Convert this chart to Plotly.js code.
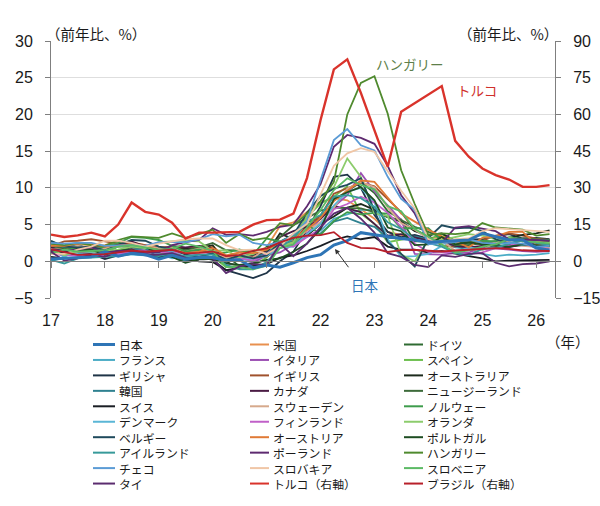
<!DOCTYPE html>
<html>
<head>
<meta charset="utf-8">
<script src="https://cdn.plot.ly/plotly-3.0.1.min.js"></script>
<style>html,body{margin:0;padding:0;background:#fff;}#chart{width:600px;height:506px;}</style>
</head>
<body>
<div id="chart"></div>
<script>
// ---- Data (quarterly, y/y %) ----
const periods = [
 '2017-01-01','2017-04-01','2017-07-01','2017-10-01',
 '2018-01-01','2018-04-01','2018-07-01','2018-10-01',
 '2019-01-01','2019-04-01','2019-07-01','2019-10-01',
 '2020-01-01','2020-04-01','2020-07-01','2020-10-01',
 '2021-01-01','2021-04-01','2021-07-01','2021-10-01',
 '2022-01-01','2022-04-01','2022-07-01','2022-10-01',
 '2023-01-01','2023-04-01','2023-07-01','2023-10-01',
 '2024-01-01','2024-04-01','2024-07-01','2024-10-01',
 '2025-01-01','2025-04-01','2025-07-01','2025-10-01',
 '2026-01-01','2026-04-01'];
const yearTickVals = ['2017-01-01','2018-01-01','2019-01-01','2020-01-01','2021-01-01','2022-01-01','2023-01-01','2024-01-01','2025-01-01','2026-01-01'];
const yearTickText = ['17','18','19','20','21','22','23','24','25','26'];

const japan       = [0.3,0.4,0.6,0.6, 1.3,0.7,1.1,0.9, 0.3,0.8,0.3,0.5, 0.5,0.1,0.2,-0.9, -0.5,-0.8,-0.2,0.5, 0.9,2.2,2.8,3.9, 3.6,3.3,3.1,2.9, 2.6,2.7,2.8,2.9, 3.8,3.4,2.9,2.9, 1.8,1.5];
const us          = [2.5,1.9,2.0,2.1, 2.2,2.7,2.6,2.2, 1.6,1.8,1.8,2.0, 2.1,0.4,1.2,1.2, 1.9,4.8,5.3,6.7, 8.0,8.6,8.3,7.1, 5.8,4.0,3.6,3.2, 3.2,3.2,2.6,2.7, 2.7,2.4,2.9,3.0, 2.7,2.6];
const germany     = [1.9,1.6,1.8,1.6, 1.3,2.0,2.1,2.1, 1.6,1.5,1.0,1.3, 1.6,0.8,-0.7,-0.6, 2.0,2.2,3.5,5.4, 5.8,8.3,9.6,10.8, 9.3,6.8,5.7,2.7, 2.7,2.6,2.1,2.6, 2.4,2.1,2.2,2.3, 2.1,2.0];
const france      = [1.4,0.9,1.0,1.2, 1.5,2.1,2.5,2.1, 1.5,1.3,1.2,1.3, 1.3,0.3,0.3,0.1, 0.8,1.8,2.5,3.3, 4.2,5.8,6.4,7.0, 7.0,6.1,5.4,4.2, 3.2,2.6,1.9,1.7, 1.0,0.7,0.9,0.8, 0.9,1.1];
const italy       = [1.3,1.6,1.3,1.1, 0.9,1.2,1.7,1.5, 1.1,0.9,0.4,0.3, 0.3,-0.3,-0.6,-0.2, 0.8,1.2,2.3,3.8, 5.8,7.4,9.0,12.0, 9.5,7.6,5.6,1.0, 1.0,0.9,1.1,1.2, 1.9,1.8,1.6,1.4, 1.3,1.4];
const spain       = [2.7,2.0,1.8,1.6, 1.1,2.1,2.3,1.7, 1.1,1.0,0.3,0.6, 0.6,-0.8,-0.6,-0.6, 0.5,2.5,3.4,6.0, 7.9,8.8,10.2,6.5, 5.1,2.6,2.9,3.3, 3.0,3.7,2.5,2.4, 2.5,2.2,2.8,3.0, 2.5,2.6];
const greece      = [1.4,1.1,0.8,1.0, 0.3,0.8,1.0,0.9, 0.8,0.6,0.1,0.6, 0.2,-1.2,-1.8,-2.3, -1.6,0.0,1.3,4.3, 7.5,11.5,11.8,10.0, 6.3,4.0,3.3,3.6, 3.1,2.6,2.9,2.9, 3.0,3.4,3.7,3.1, 3.2,3.0];
const uk          = [2.1,2.7,2.8,3.0, 2.7,2.4,2.5,2.2, 1.9,2.0,1.8,1.4, 1.7,0.6,0.6,0.5, 0.6,2.1,2.8,4.9, 6.2,9.2,10.0,10.7, 10.2,8.4,6.7,4.2, 3.5,2.1,2.0,2.5, 2.8,3.5,3.8,3.5, 3.1,2.9];
const australia   = [2.1,1.9,1.8,1.9, 1.9,2.1,1.9,1.8, 1.3,1.6,1.7,1.8, 2.2,-0.3,0.7,0.9, 1.1,3.8,3.0,3.5, 5.1,6.1,7.3,7.8, 7.0,6.0,5.4,4.1, 3.6,3.8,2.8,2.4, 2.4,2.1,3.2,3.6, 3.8,4.2];
const korea       = [2.1,1.9,2.3,1.5, 1.3,1.5,1.6,1.8, 0.5,0.7,0.0,0.3, 1.2,-0.1,0.6,0.5, 1.1,2.5,2.6,3.5, 3.8,5.4,5.9,5.2, 4.7,3.2,3.1,3.4, 3.0,2.7,2.1,1.6, 2.1,2.1,1.9,2.4, 2.1,2.0];
const canada      = [1.9,1.3,1.4,1.8, 2.1,2.3,2.7,2.0, 1.6,2.1,1.9,2.1, 1.8,0.0,0.3,0.8, 1.4,3.3,4.1,4.7, 5.8,7.5,7.2,6.7, 5.1,3.5,3.7,3.2, 2.8,2.8,2.1,1.9, 2.1,1.8,2.0,2.2, 2.4,2.3];
const newZealand  = [2.2,1.7,1.9,1.6, 1.1,1.5,1.9,1.9, 1.5,1.7,1.5,1.9, 2.5,1.5,1.4,1.4, 1.5,3.3,4.9,5.9, 6.9,7.3,7.2,7.2, 6.7,6.0,5.6,4.7, 4.0,3.3,2.2,2.2, 2.5,2.7,3.0,3.1, 2.9,2.8];
const switzerland = [0.6,0.4,0.5,0.8, 0.7,1.0,1.1,0.9, 0.6,0.6,0.3,0.0, -0.1,-1.2,-0.9,-0.7, -0.4,0.5,0.8,1.4, 2.1,2.9,3.4,3.0, 3.3,2.0,1.6,1.6, 1.2,1.4,1.0,0.7, 0.4,0.0,0.1,0.1, 0.1,0.2];
const sweden      = [1.6,1.7,2.1,1.8, 1.8,2.0,2.2,2.1, 1.8,1.9,1.3,1.7, 1.2,0.5,0.7,0.5, 1.8,2.1,2.5,4.2, 5.3,7.3,9.9,10.8, 10.1,7.3,5.2,4.3, 3.1,2.9,1.4,1.7, 1.5,2.6,2.6,2.1, 1.9,1.8];
const norway      = [2.6,2.0,1.5,1.5, 2.0,2.5,3.3,3.2, 2.9,2.1,1.3,1.6, 0.9,1.2,1.6,0.9, 3.1,2.7,3.6,5.1, 3.6,5.5,6.7,6.4, 6.6,6.5,4.5,4.5, 4.5,2.8,2.8,2.5, 2.8,2.7,3.3,3.0, 3.0,2.9];
const denmark     = [1.5,0.6,1.5,1.2, 0.7,0.9,0.9,0.8, 1.0,0.4,0.6,0.9, 0.6,0.0,0.4,0.3, 0.7,1.9,2.0,3.7, 5.1,7.6,9.5,10.0, 8.0,3.0,0.6,0.7, 1.0,2.1,1.2,1.9, 1.6,2.0,2.3,2.2, 2.3,2.1];
const finland     = [1.0,0.9,0.7,0.6, 0.8,1.0,1.2,1.3, 1.2,1.2,1.1,0.9, 1.0,0.0,0.4,0.1, 1.0,2.3,2.0,3.3, 4.4,7.1,7.8,8.8, 8.0,6.6,4.7,2.4, 1.3,1.3,1.2,1.0, 1.2,1.8,2.2,2.4, 1.9,1.7];
const netherlands = [1.6,0.8,1.4,1.4, 1.3,1.6,2.0,1.8, 2.6,2.7,2.8,2.7, 1.4,1.5,0.5,1.0, 1.8,1.9,2.6,6.1, 8.9,10.1,14.0,11.5, 6.5,6.2,0.9,0.0, 2.9,2.9,3.3,3.7, 3.5,3.0,3.2,2.8, 2.6,2.5];
const belgium     = [2.8,2.0,1.9,2.0, 1.5,2.2,2.9,2.8, 2.0,1.7,0.9,0.6, 1.1,0.2,0.8,0.4, 0.8,2.6,3.6,6.6, 8.9,9.9,10.4,11.3, 7.0,2.6,1.0,-0.7, 3.2,4.9,4.5,4.6, 4.1,3.0,2.4,2.8, 2.5,2.3];
const austria     = [2.1,2.1,2.4,2.3, 2.0,2.1,2.3,2.1, 1.5,1.6,1.1,1.3, 1.8,0.8,1.2,1.1, 1.6,2.6,3.2,4.3, 5.9,8.2,9.6,11.0, 10.8,8.7,6.5,5.4, 4.3,3.4,2.6,1.9, 3.2,3.4,4.0,4.0, 2.3,2.2];
const portugal    = [1.4,1.7,1.4,1.6, 0.9,1.4,1.6,0.9, 0.8,0.6,-0.2,0.3, 0.3,-0.3,-0.5,-0.3, 0.2,0.4,1.3,2.4, 4.4,8.5,9.4,10.1, 8.3,4.6,4.1,2.2, 2.3,3.3,2.3,2.6, 2.3,2.1,2.0,2.3, 2.2,2.1];
const ireland     = [0.2,-0.3,0.4,0.5, 0.6,0.7,1.0,0.8, 0.7,1.1,0.7,0.9, 0.9,-0.5,-1.1,-1.1, -0.1,1.9,3.1,5.4, 6.3,8.8,9.0,8.6, 7.4,5.3,4.4,3.0, 2.5,2.0,1.1,0.8, 1.7,1.8,2.4,2.9, 2.5,2.2];
const poland      = [1.5,1.5,1.6,1.9, 1.2,1.4,1.4,1.1, 1.2,2.2,2.6,2.9, 4.5,3.6,3.7,3.5, 4.0,4.7,5.0,7.5, 10.5,15.6,17.2,16.8, 16.0,13.0,9.0,6.5, 2.8,2.5,4.6,4.8, 4.4,4.1,3.0,3.0, 2.9,2.8];
const hungary     = [2.4,2.2,2.5,2.2, 2.1,2.9,3.4,3.3, 3.2,3.8,3.2,3.7, 4.3,2.5,3.7,2.9, 3.2,5.2,4.9,6.5, 8.2,10.8,20.0,24.3, 25.2,20.1,12.4,7.8, 3.6,3.8,3.7,3.9, 5.2,4.6,4.5,4.3, 3.5,3.7];
const czech       = [2.5,2.4,2.5,2.5, 2.1,2.2,2.2,2.1, 2.6,2.6,2.6,3.0, 3.7,3.4,3.6,2.5, 2.2,2.6,3.6,5.5, 11.0,16.5,18.0,15.8, 15.1,11.5,8.5,7.0, 2.3,2.5,2.6,3.0, 2.5,2.4,2.5,2.4, 2.0,2.1];
const slovakia    = [1.0,1.0,1.6,2.0, 2.8,2.8,2.5,2.0, 2.4,2.7,3.0,3.1, 3.1,2.2,1.5,1.6, 1.0,2.0,3.8,5.1, 9.0,13.0,14.7,15.4, 14.9,12.2,9.6,7.2, 3.0,2.5,3.0,3.1, 4.1,4.5,4.4,4.2, 4.2,4.0];
const slovenia    = [1.1,1.6,1.3,1.4, 1.5,2.0,2.2,1.9, 1.6,1.7,2.4,2.0, 1.4,-0.8,-0.8,-1.1, -0.6,1.8,2.3,4.6, 7.0,9.7,11.3,10.4, 9.8,7.5,6.8,4.4, 3.4,2.3,1.2,1.5, 2.0,2.3,3.0,2.7, 2.6,2.4];
const thailand    = [1.3,0.1,0.4,0.9, 0.6,1.3,1.5,0.8, 0.9,1.1,0.5,0.4, 0.4,-1.6,-0.7,-0.4, -0.5,2.4,0.7,2.4, 4.7,6.5,7.3,5.8, 3.9,1.1,0.6,-0.5, -0.8,0.8,0.6,1.0, 1.1,-0.2,-0.7,-0.4, -0.3,0.0];
const turkey      = [10.9,9.9,10.6,11.7, 10.2,15.0,24.0,20.2, 19.1,15.8,9.3,11.7, 11.7,11.8,12.0,15.0, 16.8,17.0,19.5,34.0, 57.7,78.4,82.5,68.8, 53.8,38.6,61.1,64.5, 68.0,71.6,49.2,42.7, 37.9,35.2,33.4,30.4, 30.4,31.1];
const brazil      = [4.9,3.6,2.6,2.8, 2.9,3.6,4.4,3.9, 4.2,4.7,3.2,3.4, 4.0,2.1,2.6,4.3, 5.3,7.7,9.6,10.5, 10.7,11.9,7.5,5.5, 5.3,3.8,4.6,4.7, 4.3,4.0,4.4,4.8, 5.2,5.4,5.1,4.5, 4.3,4.2];

// legend order (row-major, 3 columns)
const names = ['日本','米国','ドイツ','フランス','イタリア','スペイン','ギリシャ','イギリス','オーストラリア',
  '韓国','カナダ','ニュージーランド','スイス','スウェーデン','ノルウェー','デンマーク','フィンランド','オランダ',
  'ベルギー','オーストリア','ポルトガル','アイルランド','ポーランド','ハンガリー','チェコ','スロバキア','スロベニア',
  'タイ','トルコ（右軸）','ブラジル（右軸）'];
const colors = ['#2e75b6','#e8904f','#2f6b32','#4bacc6','#9b4fb3','#6dbf4e','#1f3447','#a0522d','#1c2a1c',
  '#2f8190','#4a1b44','#3d6b3a','#1a1e24','#d6a98c','#3e9c4c','#5ab6d6','#c060c8','#8ccc6c',
  '#1f4a5c','#e07a36','#1e4d22','#379a9a','#5e2a70','#4f8a2e','#5b9bd5','#f0c6a6','#5cba65',
  '#5b2c6f','#d9332b','#b8202a'];
const values = [japan,us,germany,france,italy,spain,greece,uk,australia,korea,canada,newZealand,
  switzerland,sweden,norway,denmark,finland,netherlands,belgium,austria,portugal,ireland,poland,
  hungary,czech,slovakia,slovenia,thailand,turkey,brazil];
const onRightAxis = names.map(n => n.indexOf('右軸') >= 0);

// ---- Traces ----
const traces = [];
const order = [];
for (let i = 1; i < names.length; i++) if (!onRightAxis[i]) order.push(i);
order.push(0);
for (let i = 0; i < names.length; i++) if (onRightAxis[i]) order.push(i);
order.forEach(i => {
  traces.push({
    type: 'scatter', mode: 'lines', name: names[i],
    x: periods, y: values[i],
    xaxis: onRightAxis[i] ? 'x2' : 'x',
    yaxis: onRightAxis[i] ? 'y2' : 'y',
    line: {color: colors[i], width: i === 0 ? 3 : (names[i].startsWith('トルコ') ? 2.4 : 1.8)},
    showlegend: false, hoverinfo: 'skip'
  });
});

// ---- geometry helpers (pixel -> paper) ----
const PL = 51, PR = 555, PT = 41, PB = 298;
const px = v => (v - PL) / (PR - PL);
const py = v => (PB - v) / (PB - PT);

const FONT = 'Liberation Sans, Arial, "Noto Sans CJK JP", sans-serif';
const JFONT = '"Noto Sans CJK JP", "Liberation Sans", sans-serif';

// manual legend (3 columns x 10 rows)
const ROW0 = 344.5, ROWH = 15.45, NROWS = 10;
const shapes = [];
const annotations = [];
const colLine = [[93,115],[250,269],[404,423]];
const colText = [117, 271, 425];
names.forEach((n, i) => {
  const r = Math.floor(i / 3), c = i % 3;
  const yy = ROW0 + r * ROWH;
  shapes.push({type:'line', xref:'paper', yref:'paper', x0: px(colLine[c][0]), x1: px(colLine[c][1]),
    y0: py(yy), y1: py(yy), line:{color: colors[i], width: i === 0 ? 3 : 2}});
});
[0, 1, 2].forEach(c => {
  const colNames = names.filter((n, i) => i % 3 === c);
  annotations.push({xref:'paper', yref:'paper', x: px(colText[c]), y: py(ROW0 + ROWH * (NROWS - 1) / 2),
    xanchor:'left', yanchor:'middle', align:'left', text: colNames.join('<br>'), showarrow:false,
    font:{family: JFONT, size: ROWH / 1.3, color:'#1a1a1a'}});
});

annotations.push(
  {xref:'paper', yref:'paper', x: px(44), y: py(33), xanchor:'left', yanchor:'middle', text:'（前年比、%）',
   showarrow:false, font:{family: JFONT, size: 14.5, color:'#1a1a1a'}},
  {xref:'paper', yref:'paper', x: px(560), y: py(33), xanchor:'right', yanchor:'middle', text:'（前年比、%）',
   showarrow:false, font:{family: JFONT, size: 14.5, color:'#1a1a1a'}},
  {xref:'paper', yref:'paper', x: px(568), y: py(341), xanchor:'center', yanchor:'middle', text:'（年）',
   showarrow:false, font:{family: JFONT, size: 14.5, color:'#1a1a1a'}},
  {xref:'paper', yref:'paper', x: px(374), y: py(64), xanchor:'left', yanchor:'middle', text:'ハンガリー',
   showarrow:false, font:{family: JFONT, size: 13.5, color:'#5e7f4a'}},
  {xref:'paper', yref:'paper', x: px(455), y: py(90), xanchor:'left', yanchor:'middle', text:'トルコ',
   showarrow:false, font:{family: JFONT, size: 13.5, color:'#d0302b'}},
  {xref:'paper', yref:'paper', x: px(349), y: py(285), xanchor:'left', yanchor:'middle', text:'日本',
   showarrow:false, font:{family: JFONT, size: 13.5, color:'#2e75b6'}},
  {xref:'paper', yref:'paper', x: px(335), y: py(249), text:' ', showarrow:true, ax: 17, ay: 23,
   arrowhead: 2, arrowsize: 1, arrowwidth: 1, arrowcolor:'#333333', standoff: 0}
);

const layout = {
  width: 600, height: 506,
  margin: {l: PL, r: 600 - PR, t: PT, b: 506 - PB},
  paper_bgcolor: '#ffffff', plot_bgcolor: '#ffffff',
  font: {family: FONT, size: 16, color: '#1a1a1a'},
  showlegend: false,
  xaxis: {
    type: 'date', range: ['2017-01-01', '2026-05-08'],
    tickmode: 'array', tickvals: yearTickVals, ticktext: yearTickText,
    ticks: '', showline: false, showgrid: false, zeroline: false,
    ticklabelstandoff: 11, tickfont: {family: FONT, size: 16, color: '#1a1a1a'}
  },
  xaxis2: {
    type: 'date', range: ['2017-01-01', '2026-05-08'], overlaying: 'x', anchor: 'free',
    position: (0 - (-5)) / 35,
    tickmode: 'array', tickvals: yearTickVals, showticklabels: false,
    ticks: 'outside', ticklen: 6, tickcolor: '#7f7f7f', tickwidth: 1,
    showline: true, linecolor: '#7f7f7f', linewidth: 1, showgrid: false, zeroline: false
  },
  yaxis: {
    range: [-5, 30], dtick: 5, tick0: 0,
    showline: true, linecolor: '#7f7f7f', linewidth: 1,
    ticks: 'outside', ticklen: 5, tickcolor: '#7f7f7f',
    showgrid: true, gridcolor: '#dedede', gridwidth: 1, zeroline: false,
    ticklabelstandoff: 9, tickfont: {family: FONT, size: 16, color: '#1a1a1a'}
  },
  yaxis2: {
    range: [-15, 90], dtick: 15, tick0: 0, overlaying: 'y', side: 'right', anchor: 'x',
    showline: true, linecolor: '#7f7f7f', linewidth: 1,
    ticks: 'outside', ticklen: 5, tickcolor: '#7f7f7f',
    showgrid: false, zeroline: false,
    ticklabelstandoff: 9, tickfont: {family: FONT, size: 16, color: '#1a1a1a'}
  },
  shapes: shapes,
  annotations: annotations
};

Plotly.newPlot('chart', traces, layout, {displayModeBar: false, staticPlot: true});
</script>
</body>
</html>
